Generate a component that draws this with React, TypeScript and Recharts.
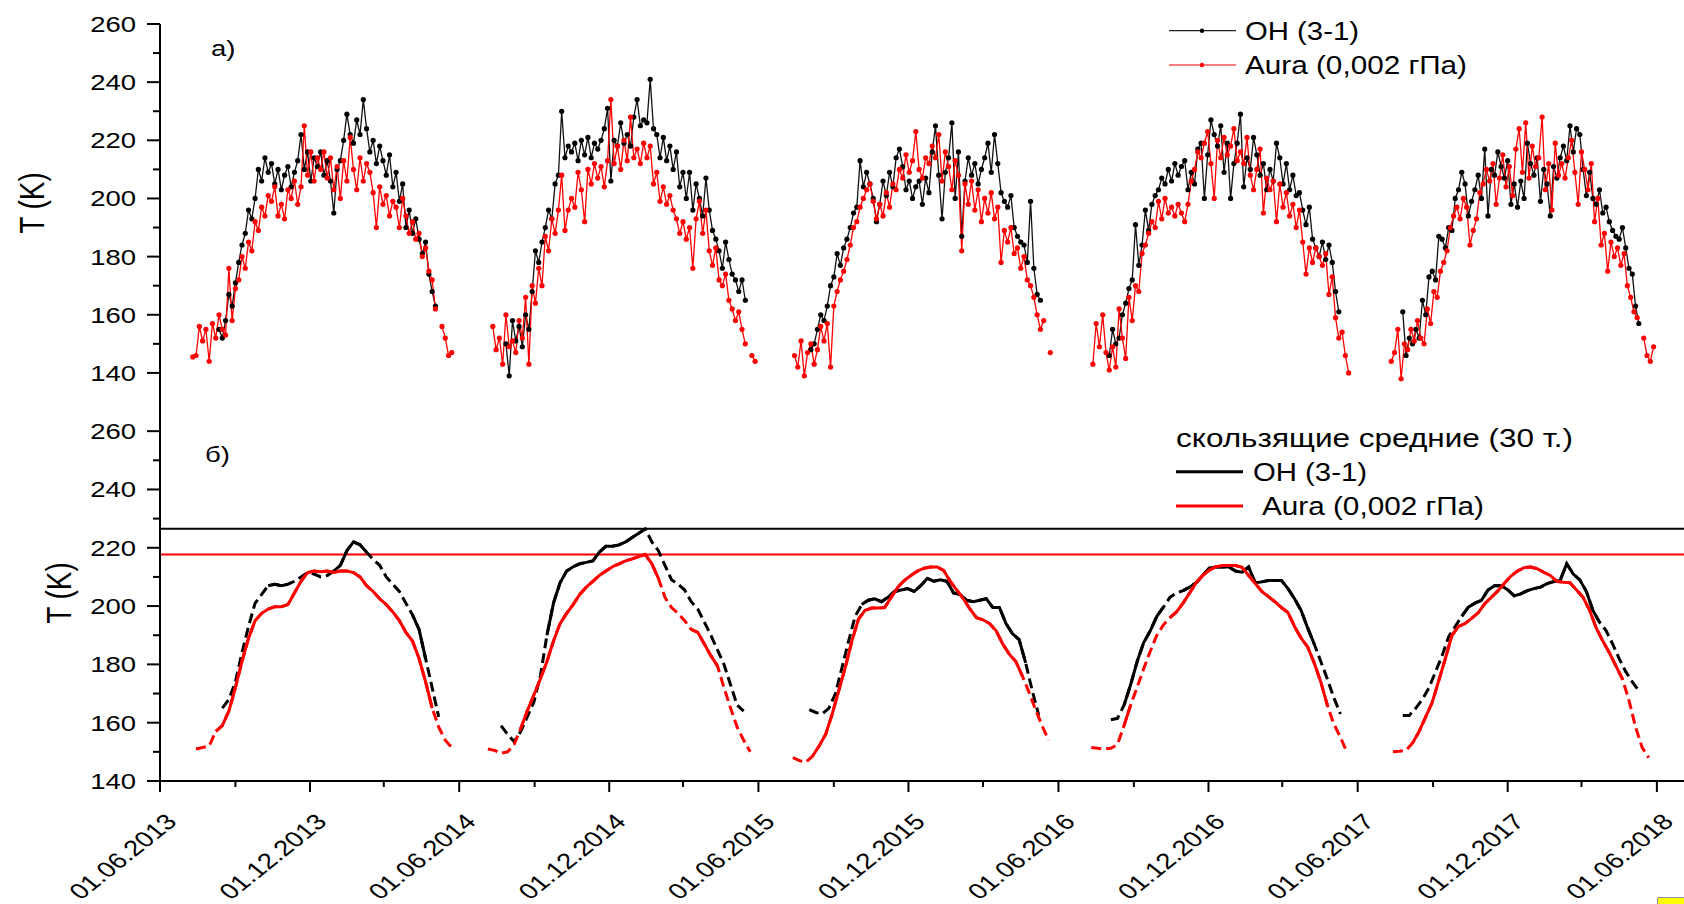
import React from "react";
import { LineChart, Line, XAxis, YAxis, ReferenceLine } from "recharts";

const FONT = '"Liberation Sans", Arial, sans-serif';
const STRETCH = 1.25; // the source figure is stretched horizontally

// time axis labels (dd.mm.yyyy)
const majorDates = [
  "01.06.2013", "01.12.2013", "01.06.2014", "01.12.2014", "01.06.2015", "01.12.2015",
  "01.06.2016", "01.12.2016", "01.06.2017", "01.12.2017", "01.06.2018",
];
const minorDates = [
  "01.09.2013", "01.03.2014", "01.09.2014", "01.03.2015", "01.09.2015",
  "01.03.2016", "01.09.2016", "01.03.2017", "01.09.2017", "01.03.2018",
];

const DAY0 = Date.UTC(2013, 5, 1);
const dayOf = (s: string) => {
  const [dd, mm, yy] = s.split(".").map(Number);
  return Math.round((Date.UTC(yy, mm - 1, dd) - DAY0) / 86400000);
};

// --- a) temperatures, K. One value every 4 days from the season start (days since 01.06.2013)
const SAMPLE_STEP = 4;
const ohStarts = [72, 422, 794, 1158, 1516];
const oh2013 = [155,152,158,167,163,171,178,184,188,196, 193,200,210,206,214,209,212,205,210,203, 208,211,204,209,213,222,210,216,206,214, 211,216,208,213,206,195,210,213,220,229, 222,219,227,222,234,224,216,220,212,218, 213,208,215,204,209,199,205,190,196,188, 193,186,181,185,174,168,163];
const oh2014 = [150,139,158,151,156,149,160,155,168,182, 178,185,190,196,193,205,208,230,214,218, 216,219,213,220,215,221,214,219,217,220, 224,231,206,220,218,226,219,222,218,228, 234,225,227,226,241,224,222,214,221,213, 218,210,216,204,209,200,209,196,205,200, 194,207,196,189,186,182,176,185,179,174, 172,168,172,165];
const oh2015 = [148,150,155,160,158,163,170,173,181,177, 183,186,190,195,197,213,204,209,205,200, 192,198,206,201,209,204,214,217,211,203, 206,200,204,206,198,207,202,216,225,208, 193,209,214,226,200,216,187,206,214,208, 212,205,210,214,219,209,222,212,202,199, 197,201,190,187,185,184,178,199,176,167, 165];
const oh2016 = [146,155,150,152,160,164,169,172,191,177, 184,196,189,198,201,203,207,205,210,206, 212,208,211,213,203,209,205,217,219,200, 215,227,222,218,225,209,219,200,212,219, 229,204,214,210,221,215,208,212,203,210, 206,219,214,205,212,203,208,201,202,196, 191,197,186,183,180,185,179,184,178,168, 161];
const oh2017 = [161,146,152,150,155,152,165,160,173,175, 172,187,186,183,190,189,200,203,209,205, 194,199,203,208,200,217,194,210,208,216, 211,207,213,198,205,197,206,200,219,212, 208,214,199,210,205,194,211,207,214,218, 213,225,216,224,222,210,201,209,200,198, 203,195,197,192,189,187,186,190,183,176, 174,163,157];

const auraStarts = [40, 406, 774, 1138, 1502];
const aura2013 = [145.5,146,156,151,155,144,157,152,160,155, 153,176,158,169,172,180,176,185,182,192, 189,197,194,201,199,204,194,198,193,203, 200,206,198,204,225,208,216,206,214,210, 216,207,214,203,211,200,213,206,221,210, 203,214,206,212,209,202,190,204,198,201, 194,199,197,190,200,194,188,192,186,188, 180,183,175,172,162,null,156,152,146,147];
const aura2014 = [156,148,152,143,160,149,151,147,158,152, 166,143,170,164,176,170,187,182,193,188, 196,208,189,196,200,197,209,203,192,210, 205,212,207,211,204,213,234,212,218,210, 220,213,228,214,217,212,219,214,218,205, 209,199,204,198,201,196,193,188,192,186, 190,176,193,199,188,196,182,177,183,172, 170,174,165,162,158,161,155,150,null,146, 144];
const aura2015 = [146,142,151,139,147,150,143,148,156,151, 157,142,163,168,172,175,179,184,190,192, 197,200,203,205,199,193,198,194,202,197, 205,203,210,207,215,209,213,223,210,207, 214,212,218,214,222,206,216,211,203,213, 208,182,205,198,206,196,203,192,200,195, 202,193,197,178,189,185,190,181,183,176, 180,172,170,166,160,155,158,null,147];
const aura2016 = [143,157,149,160,147,141,149,142,162,152, 145,166,158,170,168,181,184,188,192,190, 199,193,200,195,197,194,198,195,192,198, 206,210,216,214,219,223,212,200,220,214, 221,215,218,224,213,216,212,221,208,203, 210,217,195,207,203,206,192,205,197,202, 194,198,190,196,185,174,183,178,183,180, 177,181,167,173,159,152,154,146,140];
const aura2017 = [144,147,155,138,150,148,155,151,158,152, 150,162,157,168,166,175,178,182,190,194, 197,193,200,197,184,189,193,202,205,210, 206,212,198,207,215,204,211,201,217,224, 209,226,207,218,211,214,228,203,212,196, 219,208,212,207,214,220,209,198,216,210, 203,212,192,200,184,188,175,185,180,183, 177,181,170,166,161,159,null,152,146,144, 149];

// --- б) 30-point moving averages, K. One value every 8 days
const MA_STEP = 8;
const ohMaStarts = [76, 416, 792, 1160, 1516];
const ohMa2013 = [165,168,174,184,193,201,204,207,207.5,207, 207.5,208.5,210,211.5,211,210,210.5,212,214,219, 222,221,218.5,216,214,210,207.5,205,201,197, 192,182,172,162];
const ohMa2014 = [159,156,153.5,157,162,167,176,190,201,208, 212,213.5,214.5,215,215.5,218.5,220.5,220.5,221,222, 223.5,225,226.5,222,219,214,209,207.5,205.5,201.5, 199,194.5,190,185,180,173,166,164];
const ohMa2015 = [164.5,163.5,163,165,170,179,188,196.5,200.5,202, 202.5,201.5,203,205,205.5,206,205,207,209.5,208.5, 209,208.5,204.5,204,202,201.5,202,202.5,199.5,199.5, 194,190.5,188.5,180.5,171,162.5];
const ohMa2016 = [161,161.5,166,173,181,187.5,191.5,196.5,199.6,203, 204.5,205.3,206.5,208,210.5,213,213.4,213.4,213.4,212, 211.6,213.4,208,208.3,208.8,208.8,208.8,206,202.5,198.5, 192.5,187,181,175,168.5,163];
const ohMa2017 = [162.5,162.5,165,168,172,177.5,183,189.5,193,196.5, 199.6,201,202,205.5,207,207,205.6,203.5,204.2,205.3, 206,206.5,207.7,208.4,208.8,214.5,211,209,205,198.5, 194.5,191.6,187,182,177.5,174,171];

const auraMaStarts = [44, 400, 772, 1136, 1504];
const auraMa2013 = [151,151.5,152,157,159,164,172,181,189,195, 197.5,199,199.8,199.8,200.5,204.5,208.5,211.5,212,211.8, 212,211.5,212,212,211.5,210,207,205,202.5,200.5, 198,195,191,188,182,174,165,158.5,154,151.5];
const auraMa2014 = [151,150.5,149.5,150,152.5,158,164,169.5,175,181, 188,194,197.5,200.5,204,206.5,208.5,210.5,212,213.5, 214.5,215.5,216.2,217,217.7,214.5,209.5,203,199.5,197.5, 195,192,191,187,183,179.5,172,165,158.5,154, 150];
const auraMa2015 = [148,147,146.5,148.5,152,156,163,171,179,188, 195.5,198.5,199.3,199.3,199.5,203,206.5,208.8,210.5,212, 213,213.4,213.4,212.2,208.5,205.5,202.5,199,196,195.3, 194,191.5,187,183.5,181,176,170.5,164.5,159,154];
const auraMa2016 = [151.5,151.2,151,151.2,152.5,159,166,172.2,178.5,184.5, 190,193.5,196,198,201,204.5,208,210.5,212.3,213.5, 213.9,213.9,213.9,213.3,210.5,207.8,205,203.3,201.5,199.5, 197.8,193,189,186,180.5,174,166,159.5,155,149.8];
const auraMa2017 = [150,150.2,150.5,153,157,162,167,174.5,182,190, 193,194,195.8,197.7,200.8,203,205.2,207.8,210.3,212, 213.2,213.4,212.8,211.6,210.5,208.5,208.2,208,205.5,203, 198.5,192.5,188,184,179.5,175,167.6,158.5,151.5,148];

// stretches with sparse data (drawn dashed), days since 01.06.2013
const ohSparse = [[76,130],[160,200],[255,300],[328,345],[419,470],[600,715],[790,850],[1064,1075],[1160,1175],[1225,1240],[1415,1440],[1516,1580],[1760,1805]];
const auraSparse = [[44,62],[340,356],[400,432],[615,640],[688,720],[772,792],[1060,1084],[1136,1168],[1190,1230],[1425,1448],[1504,1524],[1788,1816]];

// maxima of the moving averages
const ohMaMax = 226.5;
const auraMaMax = 217.7;

type Row = { d: number; v: number | null };

function build(starts: number[], seasons: (number | null)[][], step: number): Row[] {
  const out: Row[] = [];
  seasons.forEach((vals, k) => {
    vals.forEach((v, i) => out.push({ d: starts[k] + i * step, v }));
    out.push({ d: starts[k] + vals.length * step, v: null });
  });
  return out;
}

const maskOut = (rows: Row[], ranges: number[][]) =>
  rows.map((r) => (ranges.some(([a, b]) => r.d >= a && r.d <= b) ? { d: r.d, v: null } : r));

const ohRaw = build(ohStarts, [oh2013, oh2014, oh2015, oh2016, oh2017], SAMPLE_STEP);
const auraRaw = build(auraStarts, [aura2013, aura2014, aura2015, aura2016, aura2017], SAMPLE_STEP);
const ohMa = build(ohMaStarts, [ohMa2013, ohMa2014, ohMa2015, ohMa2016, ohMa2017], MA_STEP);
const auraMa = build(auraMaStarts, [auraMa2013, auraMa2014, auraMa2015, auraMa2016, auraMa2017], MA_STEP);
const ohMaSolid = maskOut(ohMa, ohSparse);
const auraMaSolid = maskOut(auraMa, auraSparse);

const majorDays = majorDates.map(dayOf);
const minorDays = minorDates.map(dayOf);
const xTicks = [...majorDays, ...minorDays].sort((a, b) => a - b);
const X_DOMAIN = [0, 1903];

const topYTicks = [140, 150, 160, 170, 180, 190, 200, 210, 220, 230, 240, 250, 260];
const botYTicks = [140, 150, 160, 170, 180, 190, 200, 210, 220, 230, 240, 250, 260];

const W = 1720;

const YTick = (props: any) => {
  const { x, y, payload } = props;
  const major = payload.value % 20 === 0;
  return (
    <g>
      <line x1={x} y1={y} x2={x - (major ? 13 : 7)} y2={y} stroke="#000" strokeWidth={2} />
      {major && (
        <g transform={`translate(136,${y}) scale(${STRETCH},1)`}>
          <text textAnchor="end" dy="0.36em" fontSize={22} fontFamily={FONT} fill="#000">
            {payload.value}
          </text>
        </g>
      )}
    </g>
  );
};

const XTickBottom = (props: any) => {
  const { x, y, payload } = props;
  const idx = majorDays.indexOf(payload.value);
  const major = idx >= 0;
  return (
    <g>
      <line x1={x} y1={y} x2={x} y2={y + (major ? 11 : 6)} stroke="#000" strokeWidth={2} />
      {major && (
        <g transform={`translate(${x + 18},${y + 42}) scale(${STRETCH},1) rotate(-45)`}>
          <text textAnchor="end" fontSize={22} fontFamily={FONT} fill="#000">
            {majorDates[idx]}
          </text>
        </g>
      )}
    </g>
  );
};

const XTickTop = (props: any) => {
  const { x, y } = props;
  return <line x1={x} y1={y} x2={x} y2={y + 12} stroke="#000" strokeWidth={2} />;
};

const T = ({ x, y, children, size = 22, rot = 0, anchor = "start", dy = "0" }: any) => (
  <g transform={`translate(${x},${y}) scale(${STRETCH},1)${rot ? ` rotate(${rot})` : ""}`}>
    <text textAnchor={anchor} dy={dy} fontSize={size} fontFamily={FONT} fill="#000">
      {children}
    </text>
  </g>
);

export default function App() {
  return (
    <div
      style={{
        position: "absolute",
        left: 0,
        top: 0,
        width: 1684,
        height: 904,
        overflow: "hidden",
        background: "#fff",
      }}
    >
      {/* б) moving averages */}
      <div style={{ position: "absolute", left: 0, top: 0 }}>
        <LineChart width={W} height={904} margin={{ top: 402, right: 0, bottom: 0, left: 80 }}>
          <XAxis
            xAxisId="b"
            type="number"
            dataKey="d"
            domain={X_DOMAIN}
            ticks={xTicks}
            interval={0}
            height={123}
            tickSize={0}
            tickMargin={0}
            tickLine={false}
            axisLine={{ stroke: "#000", strokeWidth: 2 }}
            tick={<XTickBottom />}
            allowDataOverflow
          />
          <XAxis
            xAxisId="t"
            orientation="top"
            type="number"
            dataKey="d"
            domain={X_DOMAIN}
            ticks={xTicks}
            interval={0}
            height={0}
            tickSize={0}
            tickMargin={0}
            tickLine={false}
            axisLine={{ stroke: "#000", strokeWidth: 2 }}
            tick={<XTickTop />}
            allowDataOverflow
          />
          <YAxis
            type="number"
            domain={[140, 270]}
            ticks={botYTicks}
            interval={0}
            width={80}
            tickSize={0}
            tickMargin={0}
            tickLine={false}
            axisLine={{ stroke: "#000", strokeWidth: 2 }}
            tick={<YTick />}
            allowDataOverflow
          />
          <ReferenceLine xAxisId="b" y={ohMaMax} stroke="#000" strokeWidth={2} />
          <ReferenceLine xAxisId="b" y={auraMaMax} stroke="#ff0000" strokeWidth={2} />
          <Line xAxisId="b" data={ohMa} dataKey="v" stroke="#000" strokeWidth={3} strokeDasharray="10 5" dot={false} isAnimationActive={false} />
          <Line xAxisId="b" data={ohMaSolid} dataKey="v" stroke="#000" strokeWidth={3} dot={false} isAnimationActive={false} />
          <Line xAxisId="b" data={auraMa} dataKey="v" stroke="#ff0000" strokeWidth={3} strokeDasharray="10 5" dot={false} isAnimationActive={false} />
          <Line xAxisId="b" data={auraMaSolid} dataKey="v" stroke="#ff0000" strokeWidth={3} dot={false} isAnimationActive={false} />
        </LineChart>
      </div>

      {/* а) daily values */}
      <div style={{ position: "absolute", left: 0, top: 0 }}>
        <LineChart width={W} height={402} margin={{ top: 24, right: 0, bottom: 0, left: 80 }}>
          <XAxis type="number" dataKey="d" domain={X_DOMAIN} hide allowDataOverflow />
          <YAxis
            type="number"
            domain={[130, 260]}
            ticks={topYTicks}
            interval={0}
            width={80}
            tickSize={0}
            tickMargin={0}
            tickLine={false}
            axisLine={{ stroke: "#000", strokeWidth: 2 }}
            tick={<YTick />}
            allowDataOverflow
          />
          <Line data={ohRaw} dataKey="v" stroke="#111" strokeWidth={1.3} dot={{ r: 2.6, fill: "#000", stroke: "none" }} isAnimationActive={false} />
          <Line data={auraRaw} dataKey="v" stroke="#ff0000" strokeWidth={1.3} dot={{ r: 2.6, fill: "#ff0000", stroke: "none" }} isAnimationActive={false} />
        </LineChart>
      </div>

      {/* labels and legends */}
      <svg width={1684} height={904} style={{ position: "absolute", left: 0, top: 0, pointerEvents: "none" }}>
        <T x={33} y={203} size={28} rot={-90} anchor="middle" dy="0.3em">T (K)</T>
        <T x={60} y={593} size={28} rot={-90} anchor="middle" dy="0.3em">T (K)</T>
        <T x={211} y={56}>а)</T>
        <T x={205} y={462}>б)</T>

        <line x1={1169} y1={30.7} x2={1236} y2={30.7} stroke="#222" strokeWidth={1.2} />
        <circle cx={1202} cy={30.7} r={2.2} fill="#000" />
        <text x={1245} y={39.6} fontSize={25} fontFamily={FONT} textLength={114} lengthAdjust="spacingAndGlyphs">OH (3-1)</text>
        <line x1={1169} y1={65} x2={1236} y2={65} stroke="#ff0000" strokeWidth={1.2} />
        <circle cx={1202} cy={65} r={2.2} fill="#ff0000" />
        <text x={1245} y={74} fontSize={25} fontFamily={FONT} textLength={222} lengthAdjust="spacingAndGlyphs">Aura (0,002 гПа)</text>

        <text x={1176} y={447} fontSize={25} fontFamily={FONT} textLength={397} lengthAdjust="spacingAndGlyphs">скользящие средние (30 т.)</text>
        <line x1={1176} y1={471.7} x2={1243} y2={471.7} stroke="#000" strokeWidth={3} />
        <text x={1253} y={480.6} fontSize={25} fontFamily={FONT} textLength={114} lengthAdjust="spacingAndGlyphs">OH (3-1)</text>
        <line x1={1176} y1={506} x2={1243} y2={506} stroke="#ff0000" strokeWidth={3} />
        <text x={1262} y={515} fontSize={25} fontFamily={FONT} textLength={222} lengthAdjust="spacingAndGlyphs">Aura (0,002 гПа)</text>
      </svg>

      <div
        style={{
          position: "absolute",
          left: 1657,
          top: 897,
          width: 40,
          height: 20,
          background: "#ffff00",
          border: "1px solid #8a8fb0",
          borderRadius: 2,
        }}
      />
    </div>
  );
}
